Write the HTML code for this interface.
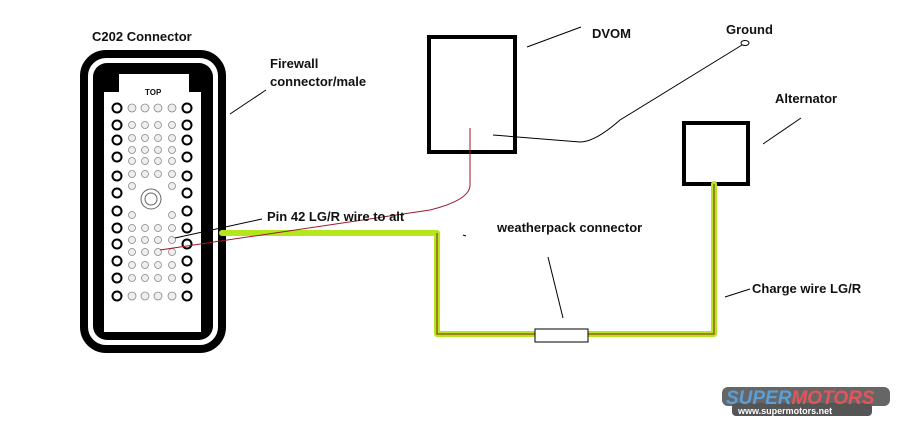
<!DOCTYPE html>
<html><head><meta charset="utf-8"><style>
html,body{margin:0;padding:0;background:#fff;}
svg{display:block;}
text{font-family:"Liberation Sans",sans-serif;font-weight:bold;fill:#111;}
</style></head><body>
<svg width="898" height="424" viewBox="0 0 898 424" xmlns="http://www.w3.org/2000/svg">
<rect width="898" height="424" fill="#fff"/>
<text x="92" y="41" font-size="13">C202 Connector</text>
<rect x="84" y="54" width="138" height="295" rx="22" fill="none" stroke="#000" stroke-width="8"/>
<rect x="93" y="63" width="120" height="277" rx="14" fill="#000"/>
<path d="M119 74 H189 V92 H201 V332 H104 V92 H119 Z" fill="#fff"/>
<text x="145" y="95" font-size="8" font-weight="normal">TOP</text>
<g fill="#eee" stroke="#888" stroke-width="0.8">
<circle cx="132" cy="108" r="4"/><circle cx="145" cy="108" r="4"/><circle cx="158" cy="108" r="4"/><circle cx="172" cy="108" r="4"/>
<g transform="translate(0,125)"><circle cx="132" r="3.5"/><circle cx="145" r="3.5"/><circle cx="158" r="3.5"/><circle cx="172" r="3.5"/></g>
<g transform="translate(0,138)"><circle cx="132" r="3.5"/><circle cx="145" r="3.5"/><circle cx="158" r="3.5"/><circle cx="172" r="3.5"/></g>
<g transform="translate(0,150)"><circle cx="132" r="3.5"/><circle cx="145" r="3.5"/><circle cx="158" r="3.5"/><circle cx="172" r="3.5"/></g>
<g transform="translate(0,161)"><circle cx="132" r="3.5"/><circle cx="145" r="3.5"/><circle cx="158" r="3.5"/><circle cx="172" r="3.5"/></g>
<g transform="translate(0,174)"><circle cx="132" r="3.5"/><circle cx="145" r="3.5"/><circle cx="158" r="3.5"/><circle cx="172" r="3.5"/></g>
<circle cx="132" cy="186" r="3.5"/><circle cx="172" cy="186" r="3.5"/>
<circle cx="132" cy="215" r="3.5"/><circle cx="172" cy="215" r="3.5"/>
<g transform="translate(0,228)"><circle cx="132" r="3.5"/><circle cx="145" r="3.5"/><circle cx="158" r="3.5"/><circle cx="172" r="3.5"/></g>
<g transform="translate(0,240)"><circle cx="132" r="3.5"/><circle cx="145" r="3.5"/><circle cx="158" r="3.5"/><circle cx="172" r="3.5"/></g>
<g transform="translate(0,252)"><circle cx="132" r="3.5"/><circle cx="145" r="3.5"/><circle cx="158" r="3.5"/><circle cx="172" r="3.5"/></g>
<g transform="translate(0,265)"><circle cx="132" r="3.5"/><circle cx="145" r="3.5"/><circle cx="158" r="3.5"/><circle cx="172" r="3.5"/></g>
<g transform="translate(0,278)"><circle cx="132" r="3.5"/><circle cx="145" r="3.5"/><circle cx="158" r="3.5"/><circle cx="172" r="3.5"/></g>
<g transform="translate(0,296)"><circle cx="132" r="4"/><circle cx="145" r="4"/><circle cx="158" r="4"/><circle cx="172" r="4"/></g>
</g>
<circle cx="151" cy="199" r="10" fill="none" stroke="#666"/><circle cx="151" cy="199" r="6" fill="none" stroke="#666"/>
<g fill="#fff" stroke="#000" stroke-width="2">
<circle cx="117" cy="108" r="4.5"/><circle cx="117" cy="125" r="4.5"/><circle cx="117" cy="140" r="4.5"/><circle cx="117" cy="157" r="4.5"/><circle cx="117" cy="176" r="4.5"/><circle cx="117" cy="193" r="4.5"/><circle cx="117" cy="211" r="4.5"/><circle cx="117" cy="228" r="4.5"/><circle cx="117" cy="244" r="4.5"/><circle cx="117" cy="261" r="4.5"/><circle cx="117" cy="278" r="4.5"/><circle cx="117" cy="296" r="4.5"/>
<circle cx="187" cy="108" r="4.5"/><circle cx="187" cy="125" r="4.5"/><circle cx="187" cy="140" r="4.5"/><circle cx="187" cy="157" r="4.5"/><circle cx="187" cy="176" r="4.5"/><circle cx="187" cy="193" r="4.5"/><circle cx="187" cy="211" r="4.5"/><circle cx="187" cy="228" r="4.5"/><circle cx="187" cy="244" r="4.5"/><circle cx="187" cy="261" r="4.5"/><circle cx="187" cy="278" r="4.5"/><circle cx="187" cy="296" r="4.5"/>
</g>
<text x="270" y="68" font-size="13">Firewall</text>
<text x="270" y="86" font-size="13">connector/male</text>
<line x1="230" y1="114" x2="266" y2="90" stroke="#000"/>
<rect x="429" y="37" width="86" height="115" fill="none" stroke="#000" stroke-width="4"/>
<line x1="527" y1="47" x2="581" y2="27" stroke="#000"/>
<text x="592" y="38" font-size="13">DVOM</text>
<text x="726" y="34" font-size="13">Ground</text>
<ellipse cx="745" cy="43" rx="4" ry="2.5" fill="none" stroke="#000"/>
<path d="M493 135 L580 142 Q595 142 620 120 L742 45" fill="none" stroke="#000" stroke-width="1"/>
<rect x="684" y="123" width="64" height="61" fill="none" stroke="#000" stroke-width="4"/>
<text x="775" y="103" font-size="13">Alternator</text>
<line x1="763" y1="144" x2="801" y2="118" stroke="#000"/>
<path d="M222 233 H437 V334 H546 M588 334 H714 V184" fill="none" stroke="#b5e61d" stroke-width="6" stroke-linejoin="round" stroke-linecap="round"/>
<path d="M437 233 V334 H546 M588 334 H714 V184" fill="none" stroke="#8a1a1a" stroke-width="1"/>
<rect x="535" y="329" width="53" height="13" fill="#fff" stroke="#000"/>
<path d="M470 128 V185 Q470 200 430 210 L160 250" fill="none" stroke="#9a1a2a" stroke-width="1"/>
<line x1="175" y1="238" x2="262" y2="219" stroke="#000"/>
<text x="267" y="221" font-size="13">Pin 42 LG/R wire to alt</text>
<text x="497" y="232" font-size="13">weatherpack connector</text>
<line x1="548" y1="257" x2="563" y2="318" stroke="#000"/>
<line x1="463" y1="235" x2="466" y2="236" stroke="#000"/>
<line x1="725" y1="297" x2="750" y2="289" stroke="#000"/>
<text x="752" y="293" font-size="13">Charge wire LG/R</text>
<rect x="722" y="387" width="168" height="19" rx="6" fill="#666"/>
<rect x="732" y="403" width="140" height="13" rx="4" fill="#555"/>
<text x="726" y="404" font-size="19" font-style="italic" style="fill:#5a9fd8">SUPER<tspan style="fill:#e4555a">MOTORS</tspan></text>
<text x="738" y="414" font-size="9" style="fill:#fff">www.supermotors.net</text>
</svg>
</body></html>
